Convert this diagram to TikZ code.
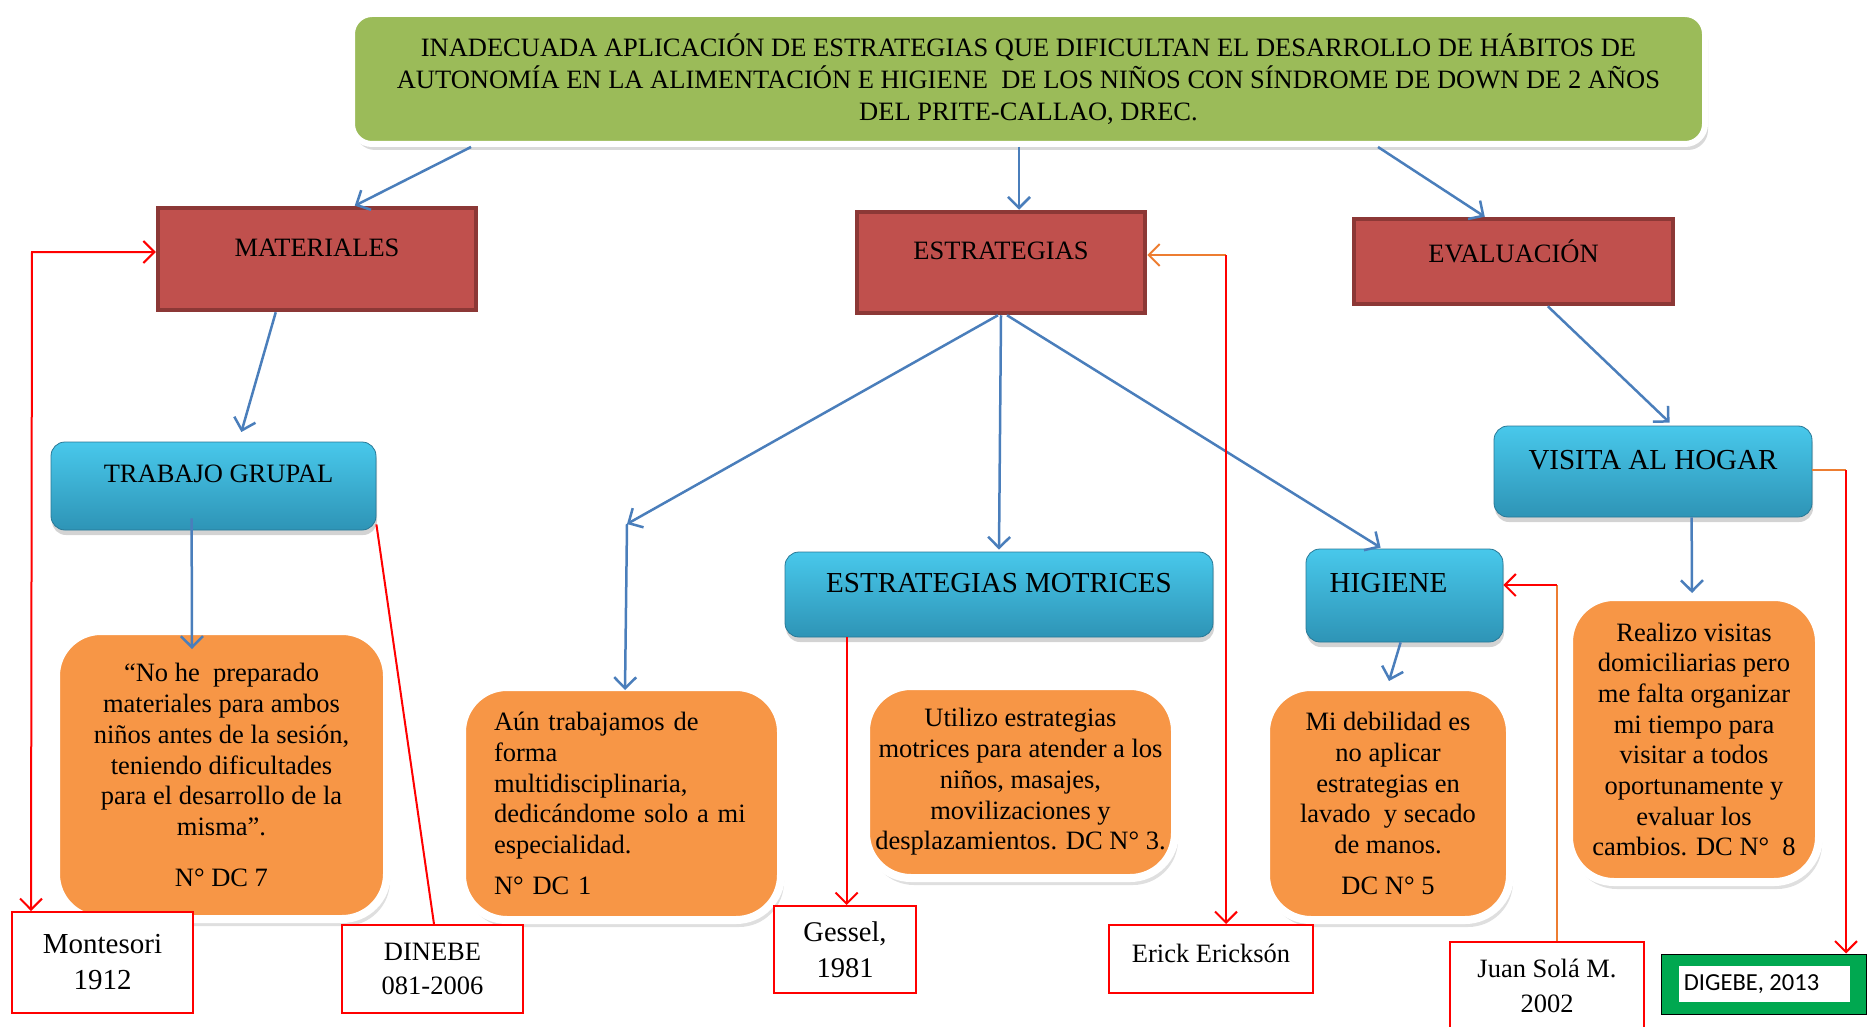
\documentclass[tikz,border=0pt]{standalone}
\usepackage{fontspec}
\setmainfont{Liberation Serif}
\newfontfamily\calibrifont{Carlito}
\usetikzlibrary{arrows.meta,shadows,calc}
\newcommand{\myfs}[2]{\fontsize{#1}{#2}\selectfont}
\definecolor{topgreen}{RGB}{155,187,89}
\definecolor{redfill}{RGB}{192,80,77}
\definecolor{redborder}{RGB}{140,56,54}
\definecolor{bluetop}{RGB}{72,200,235}
\definecolor{bluebot}{RGB}{46,148,182}
\definecolor{bluedark}{RGB}{40,120,150}
\definecolor{orangefill}{RGB}{247,150,70}
\definecolor{linkblue}{RGB}{74,126,187}
\definecolor{linkorange}{RGB}{237,125,49}
\definecolor{pureRed}{RGB}{255,0,0}
\definecolor{diggreen}{RGB}{0,168,80}
\begin{document}
\begin{tikzpicture}[x=1pt,y=-1pt,
  topbox/.style={rounded corners=20pt, draw=white, line width=6pt, fill=topgreen,
    drop shadow={shadow xshift=3pt, shadow yshift=-6pt, opacity=0.3},
    font=\myfs{26.5}{32}, align=center, inner sep=0pt},
  redbox/.style={draw=redborder, line width=4.5pt, fill=redfill,
    font=\myfs{26.5}{31}, text depth=22pt, inner sep=0pt},
  bluebox/.style={rounded corners=14pt, draw=bluedark, line width=0.8pt,
    top color=bluetop, bottom color=bluebot,
    drop shadow={shadow xshift=1pt, shadow yshift=-5pt, opacity=0.35},
    font=\myfs{29}{34}, inner sep=0pt},
  orangebox/.style={rounded corners=45pt, draw=white, line width=8pt, fill=orangefill,
    drop shadow={shadow xshift=3pt, shadow yshift=-7pt, opacity=0.25},
    font=\myfs{26.5}{30.7}, align=center, inner sep=0pt},
  refbox/.style={draw=pureRed, line width=2pt, fill=white, align=center,
    inner sep=0pt, font=\myfs{26.5}{34}},
  bluelink/.style={draw=linkblue, line width=2.5pt, -{Straight Barb[length=11pt,width=22pt]}},
  redlink/.style={draw=pureRed, line width=2pt, -{Straight Barb[length=11pt,width=22pt]}},
  orangelink/.style={draw=linkorange, line width=2pt},
  orangelinkarr/.style={draw=linkorange, line width=2pt, -{Straight Barb[length=11pt,width=22pt]}},
]
\useasboundingbox (0,0) rectangle (1867,1027);

% top box
\node[topbox, minimum width=1353pt, minimum height=130pt] (top) at (1028.5,79)
 {INADECUADA APLICACIÓN DE ESTRATEGIAS QUE DIFICULTAN EL DESARROLLO DE HÁBITOS DE\\
  AUTONOMÍA EN LA ALIMENTACIÓN E HIGIENE\ \ DE LOS NIÑOS CON SÍNDROME DE DOWN DE 2 AÑOS\\
  DEL PRITE-CALLAO, DREC.};

% red boxes
\node[redbox, minimum width=318pt, minimum height=102pt] (mat) at (317,259) {MATERIALES};
\node[redbox, minimum width=288pt, minimum height=101pt, text depth=23pt] (est) at (1001,262.5) {ESTRATEGIAS};
\node[redbox, minimum width=319pt, minimum height=85pt, text depth=21pt] (eva) at (1513.5,261.5) {EVALUACIÓN};

% blue boxes
\node[bluebox, minimum width=325pt, minimum height=88pt, text depth=24pt, font=\myfs{26.5}{31}] (tg) at (213.5,486) {\hspace*{10pt}TRABAJO GRUPAL};
\node[bluebox, minimum width=428pt, minimum height=85pt, text depth=23pt] (em) at (999,594.5) {ESTRATEGIAS MOTRICES};
\node[bluebox, minimum width=197pt, minimum height=93pt, text depth=25pt] (hig) at (1404.5,595.5) {HIGIENE\hspace*{32pt}};
\node[bluebox, minimum width=318pt, minimum height=91pt, text depth=23pt] (vh) at (1653,471.5) {VISITA AL HOGAR};

% orange boxes
\node[orangebox, minimum width=331pt, minimum height=288pt] (o1) at (221.5,775)
 {“No he\ \ preparado\\ materiales para ambos\\ niños antes de la sesión,\\ teniendo dificultades\\ para el desarrollo de la\\ misma”.\\[20pt] N° DC 7};
\node[orangebox, minimum width=319pt, minimum height=233pt, align=left, text width=255pt] (o2) at (621.5,803.5)
 {Aún trabajamos de\\ forma\\ multidisciplinaria,\\ dedicándome solo a mi\\ especialidad.\\[10pt] N° DC 1};
\node[orangebox, minimum width=309pt, minimum height=192pt] (o3) at (1020.5,782)
 {Utilizo estrategias\\ motrices para atender a los\\ niños, masajes,\\ movilizaciones y\\ desplazamientos. DC N° 3.};
\node[orangebox, minimum width=244pt, minimum height=233pt] (o4) at (1388,803.5)
 {Mi debilidad es\\ no aplicar\\ estrategias en\\ lavado\ \ y secado\\ de manos.\\[10pt] DC N° 5};
\node[orangebox, minimum width=250pt, minimum height=285pt] (o5) at (1694,739.5)
 {Realizo visitas\\ domiciliarias pero\\ me falta organizar\\ mi tiempo para\\ visitar a todos\\ oportunamente y\\ evaluar los\\ cambios. DC N°\ \ 8};

% reference boxes
\node[refbox, minimum width=181pt, minimum height=101pt, font=\myfs{29}{36}] (mon) at (102.5,962.5) {Montesori\\1912};
\node[refbox, minimum width=181pt, minimum height=88pt] (din) at (432.5,969) {DINEBE\\081-2006};
\node[refbox, minimum width=142pt, minimum height=87pt, font=\myfs{28.5}{36}] (ges) at (845,949.5) {Gessel,\\1981};
\node[refbox, minimum width=204pt, minimum height=68pt, text depth=12pt] (eri) at (1211,959) {Erick Ericksón};
\node[refbox, minimum width=194pt, minimum height=88pt, font=\myfs{26.5}{35}] (jua) at (1547,986) {Juan Solá M.\\2002};
\node[draw=black, line width=1pt, fill=diggreen, minimum width=205pt, minimum height=60pt, inner sep=0pt] (dig) at (1763.5,984) {};
\node[fill=white, minimum width=171pt, minimum height=36pt, inner sep=0pt, font=\calibrifont\myfs{24.5}{29}] (digin) at (1764.5,984) {DIGEBE, 2013\hspace*{26pt}};

% blue connectors
\draw[bluelink] ([xshift=122pt]top.south west) -- ([xshift=199pt]mat.north west);
\draw[bluelink] ([xshift=18pt]est.north |- top.south) -- ([xshift=18pt]est.north);
\draw[bluelink] ([xshift=1029pt]top.south west) -- ([xshift=133pt]eva.north west);
\draw[bluelink, shorten >=10pt] ([xshift=120pt]mat.south west) -- ([xshift=188pt]tg.north west);
\draw[bluelink] ([xshift=141pt,yshift=12pt]tg.south west) -- ([xshift=140pt,yshift=-22pt]o1.north west);
\coordinate (c1) at (627,524);
\draw[bluelink] ([xshift=-3pt]est.south) -- (c1);
\draw[bluelink] (c1) -- ([xshift=167pt,yshift=-7pt]o2.north west);
\draw[bluelink] (est.south) -- ([yshift=2pt]em.north);
\draw[bluelink] ([xshift=6pt]est.south) -- ([xshift=75pt,yshift=1pt]hig.north west);
\draw[bluelink] ([xshift=196pt]eva.south west) -- ([xshift=176pt,yshift=3pt]vh.north west);
\draw[bluelink] ([xshift=95pt]hig.south west) -- ([xshift=127pt,yshift=2pt]o4.north west);
\draw[bluelink] ([xshift=198pt]vh.south west) -- ([xshift=127pt]o5.north west);

% red / orange connectors
\coordinate (m1) at (32,252);
\draw[redlink, {Straight Barb[length=11pt,width=22pt]}-{Straight Barb[length=11pt,width=22pt]}] ([xshift=20pt]mon.north west) -- (m1) -- (m1 -| mat.west);
\draw[draw=pureRed, line width=2pt] ([yshift=6pt]tg.south east) -- ([xshift=93pt]din.north west);
\draw[redlink] ([xshift=62pt]em.south west) -- ([xshift=62pt]em.south west |- ges.north);
\coordinate (e1) at (1226,255);
\draw[orangelinkarr] (e1) -- (e1 -| est.east);
\draw[redlink] (e1) -- (e1 |- eri.north);
\coordinate (j1) at (1557,585);
\draw[orangelink] (j1 |- jua.north) -- (j1);
\draw[redlink] (j1) -- (j1 -| hig.east);
\coordinate (d1) at (1846,470);
\draw[orangelink] (vh.east |- d1) -- (d1);
\draw[redlink] (d1) -- (d1 |- dig.north);
\end{tikzpicture}
\end{document}
